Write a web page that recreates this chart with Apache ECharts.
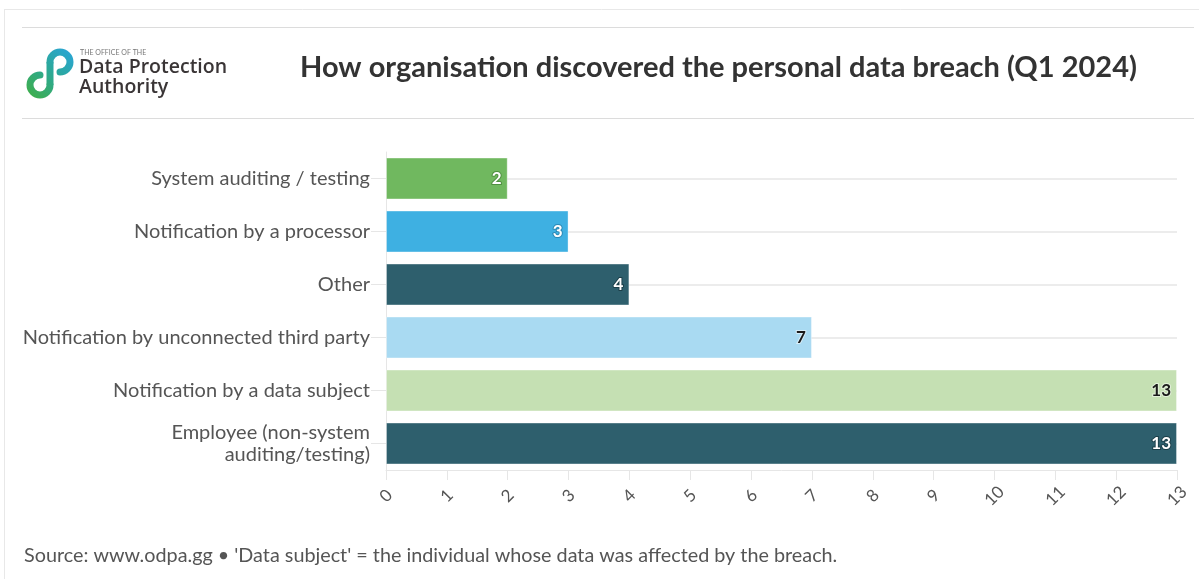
<!DOCTYPE html>
<html>
<head>
<meta charset="utf-8">
<script src="https://cdn.jsdelivr.net/npm/echarts@6/dist/echarts.min.js"></script>
<style>
html,body{margin:0;padding:0;background:#fff;}
#chart{width:1199px;height:579px;}
</style>
</head>
<body>
<div id="chart"></div>
<script>
// ---- data ----
const categories = [
  'System auditing / testing',
  'Notification by a processor',
  'Other',
  'Notification by unconnected third party',
  'Notification by a data subject',
  'Employee (non-system\nauditing/testing)'
];
const values = [2, 3, 4, 7, 13, 13];
const barColors = ['#70b85f', '#3eb0e2', '#2e5f6d', '#a9daf2', '#c5e0b3', '#2e5f6d'];
const labelColors = ['#ffffff', '#ffffff', '#ffffff', '#1a1a1a', '#1a1a1a', '#ffffff'];
const labelOutline = ['#4f8f40', '#2a88b5', '#1c3f49', '#d8eef9', '#e3f0da', '#1c3f49'];
const titleText = 'How organisation discovered the personal data breach (Q1 2024)';
const sourceText = "Source: www.odpa.gg \u2022 'Data subject' = the individual whose data was affected by the breach.";

const FONT = 'Lato, "Noto Sans", sans-serif';
const chart = echarts.init(document.getElementById('chart'), null, {renderer: 'canvas'});

const seriesData = values.map((v, i) => ({
  value: v,
  itemStyle: {color: barColors[i]},
  label: {color: labelColors[i], textBorderColor: labelOutline[i]}
}));

const logoGrad = {type: 'linear', x: 30, y: 98, x2: 72, y2: 50, global: true,
  colorStops: [{offset: 0, color: '#3fae49'}, {offset: 0.55, color: '#2ba89a'}, {offset: 1, color: '#2aa5d8'}]};

chart.setOption({
  animation: false,
  backgroundColor: '#ffffff',
  grid: {left: 386, right: 22, top: 152, bottom: 109, containLabel: false},
  xAxis: {
    type: 'value',
    min: 0, max: 13, interval: 1,
    axisLine: {show: true, lineStyle: {color: '#e6e6e6', width: 1}},
    axisTick: {show: true, length: 10, lineStyle: {color: '#e6e6e6'}},
    splitLine: {show: false},
    axisLabel: {
      rotate: 45, color: '#555', fontSize: 17, fontFamily: FONT,
      align: 'center', verticalAlign: 'middle', margin: 26
    }
  },
  yAxis: {
    type: 'category',
    inverse: true,
    data: categories,
    axisLine: {show: true, lineStyle: {color: '#e6e6e6'}},
    axisTick: {show: true, alignWithLabel: true, length: 15, lineStyle: {color: '#e6e6e6'}},
    splitLine: {show: true, alignWithLabel: true, lineStyle: {color: '#ececec', width: 2}},
    axisLabel: {color: '#555', fontSize: 20, fontFamily: FONT, margin: 16, lineHeight: 22, align: 'right'}
  },
  series: [{
    type: 'bar',
    data: seriesData,
    barCategoryGap: '21%',
    itemStyle: {borderColor: 'rgba(255,255,255,0.35)', borderWidth: 1},
    label: {
      show: true, position: 'insideRight', distance: 6,
      fontSize: 17, fontWeight: 'bold', fontFamily: FONT,
      textBorderWidth: 2
    }
  }],
  graphic: [
    {type: 'line', shape: {x1: 4, y1: 9.5, x2: 1199, y2: 9.5}, style: {stroke: '#e8e8e8', lineWidth: 1}},
    {type: 'line', shape: {x1: 4.5, y1: 9, x2: 4.5, y2: 579}, style: {stroke: '#e8e8e8', lineWidth: 1}},
    {type: 'line', shape: {x1: 22, y1: 27.5, x2: 1194, y2: 27.5}, style: {stroke: '#dcdcdc', lineWidth: 1}},
    {type: 'line', shape: {x1: 22, y1: 118.5, x2: 1194, y2: 118.5}, style: {stroke: '#dcdcdc', lineWidth: 1}},
    // logo mark
    {type: 'arc', shape: {cx: 40, cy: 85, r: 10, startAngle: 0, endAngle: Math.PI * 1.5, clockwise: true},
      style: {fill: null, stroke: logoGrad, lineWidth: 7, lineCap: 'round'}},
    {type: 'line', shape: {x1: 50, y1: 85, x2: 50, y2: 62},
      style: {stroke: logoGrad, lineWidth: 7}},
    {type: 'arc', shape: {cx: 60, cy: 62, r: 10, startAngle: Math.PI, endAngle: Math.PI * 2.5, clockwise: true},
      style: {fill: null, stroke: logoGrad, lineWidth: 7, lineCap: 'round'}},
    {type: 'text', left: 80, top: 49, style: {text: 'THE OFFICE OF THE', fontSize: 7, fill: '#777', fontFamily: FONT}},
    {type: 'text', left: 79, top: 57, style: {text: 'Data Protection', fontSize: 19.5, fontWeight: 600, fill: '#3a3536', fontFamily: '"Open Sans", sans-serif'}},
    {type: 'text', left: 79, top: 77, style: {text: 'Authority', fontSize: 19.5, fontWeight: 600, fill: '#3a3536', fontFamily: '"Open Sans", sans-serif'}},
    // title
    {type: 'text', left: 300, top: 53, style: {text: titleText, fontSize: 29, fontWeight: 'bold', fill: '#333', fontFamily: FONT}},
    // footer
    {type: 'text', left: 24, top: 546, style: {text: sourceText, fontSize: 19.8, fill: '#555', fontFamily: FONT}}
  ]
});
</script>
</body>
</html>
